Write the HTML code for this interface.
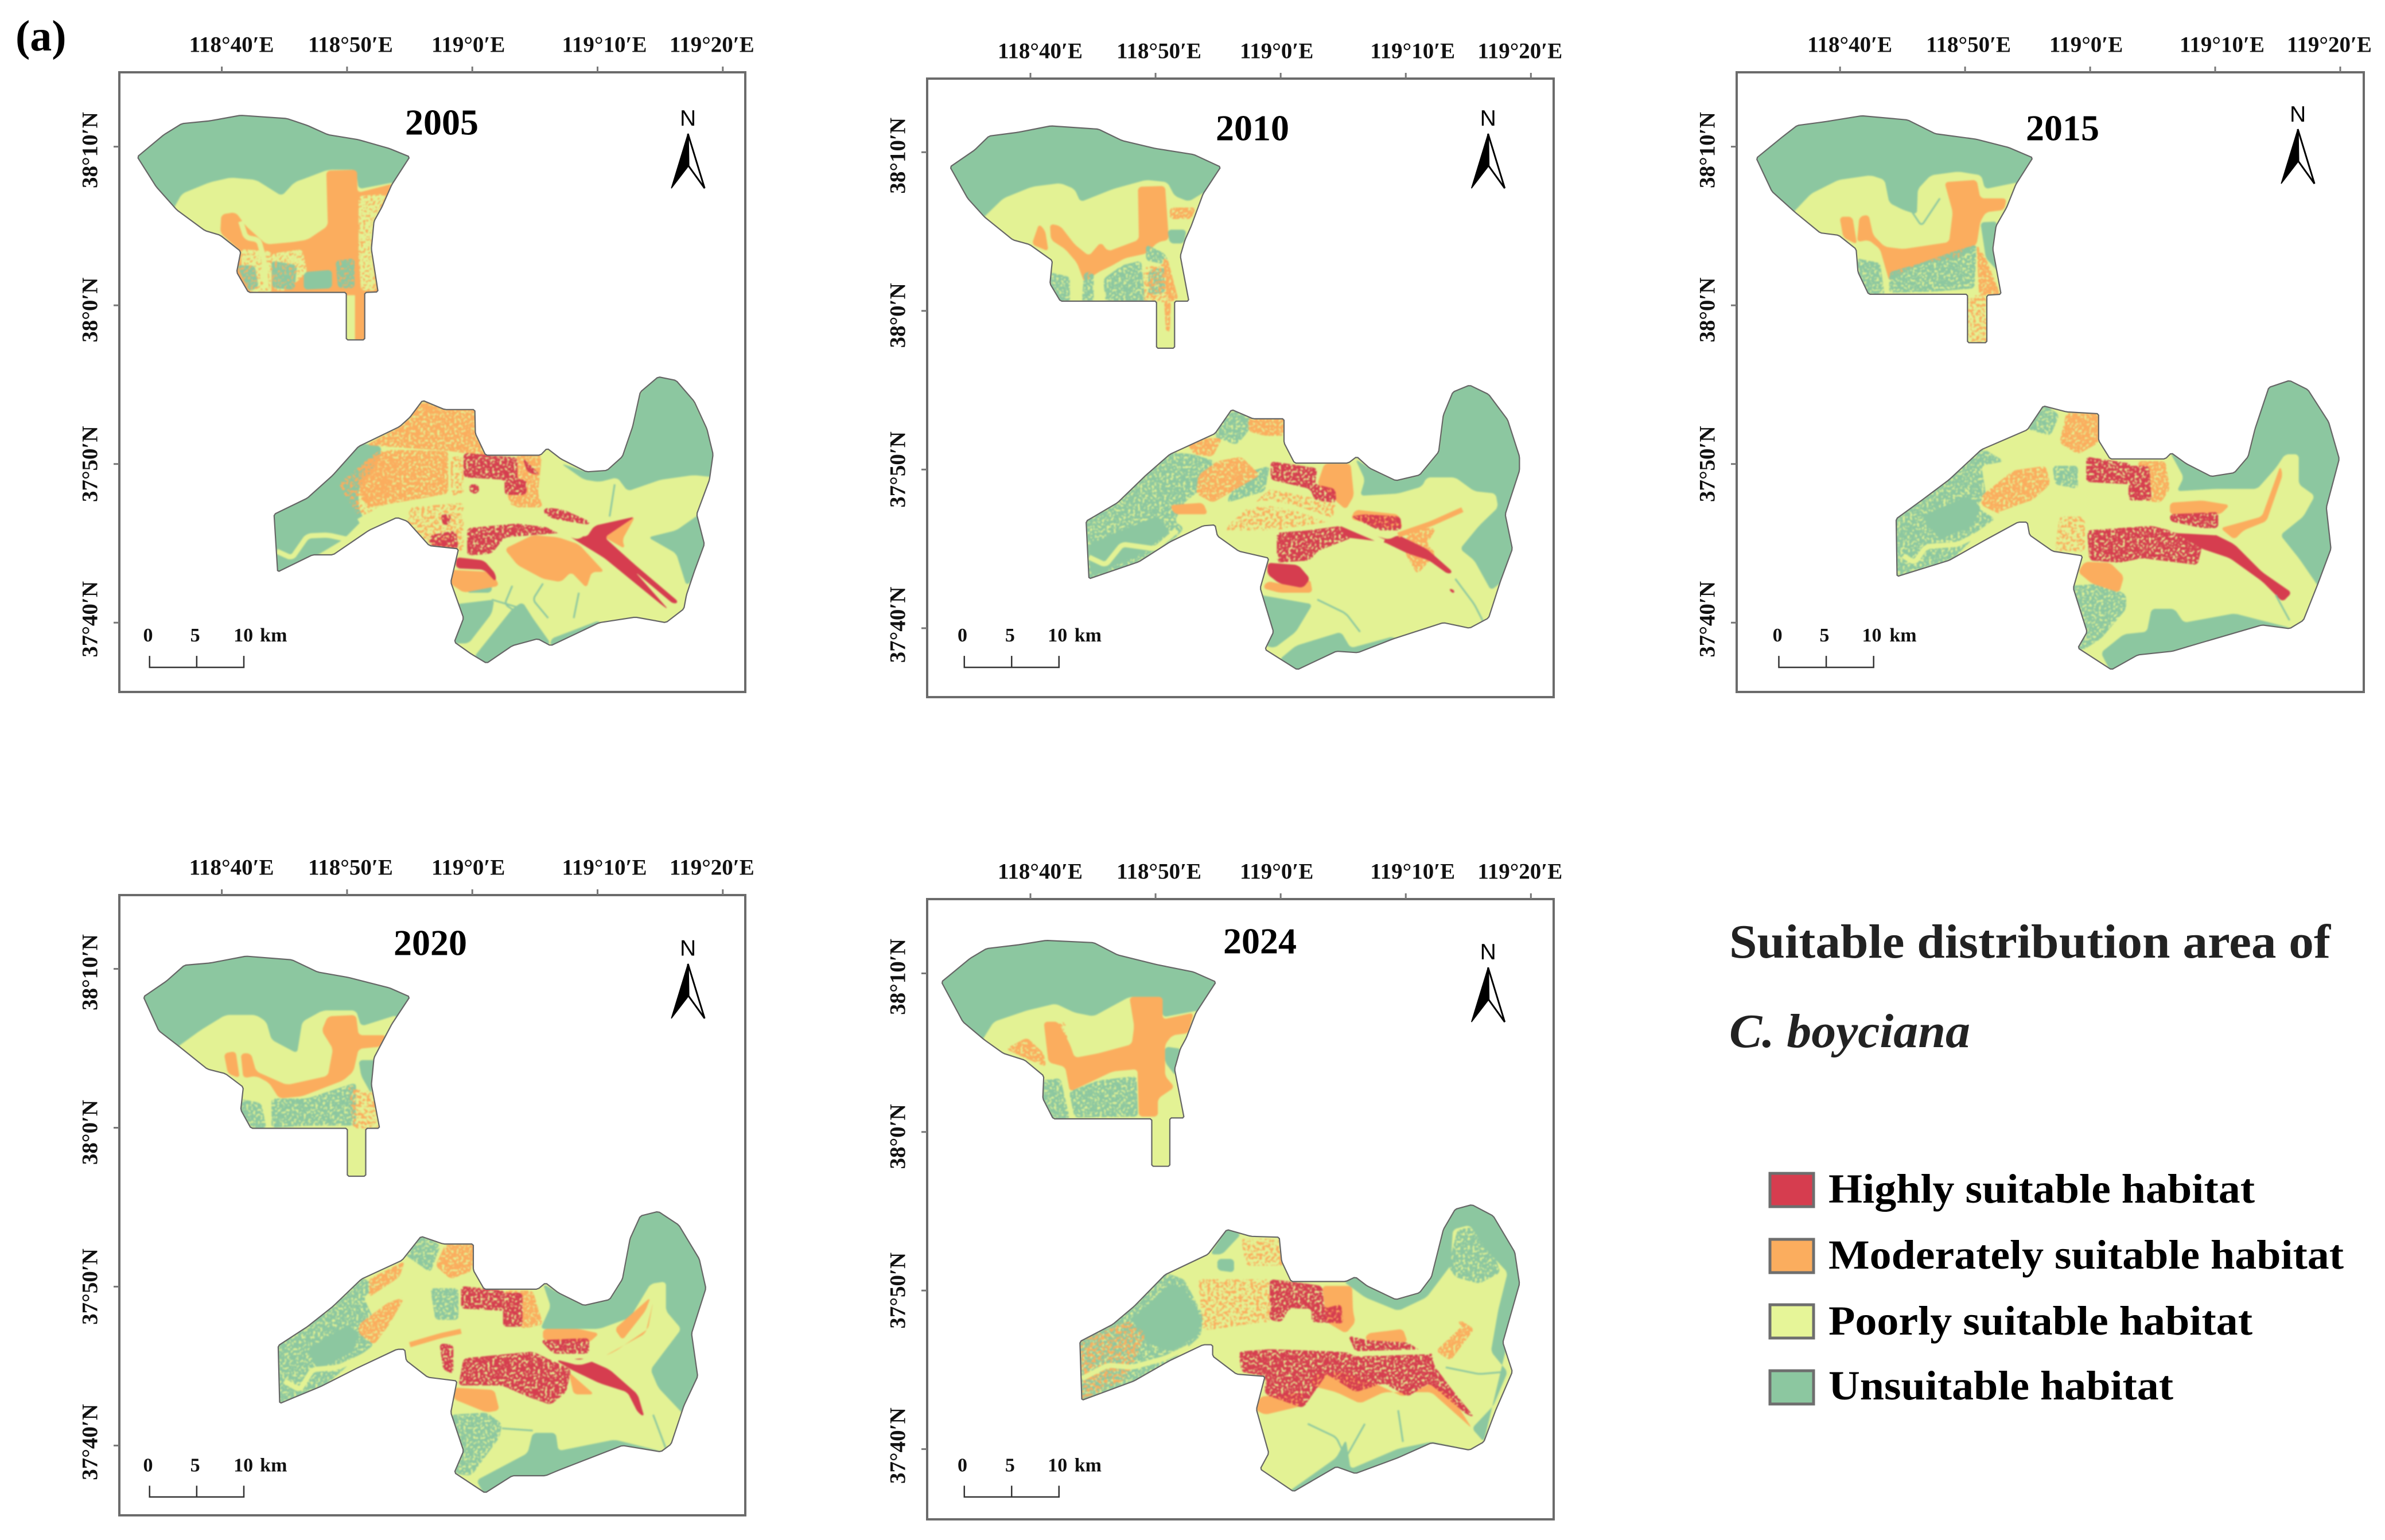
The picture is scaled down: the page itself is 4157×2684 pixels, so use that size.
<!DOCTYPE html>
<html lang="en">
<head>
<meta charset="utf-8">
<title>Suitable distribution area of C. boyciana</title>
<style>
html,body{margin:0;padding:0;background:#fff;width:4157px;height:2684px;overflow:hidden}
svg{display:block}
text{font-family:"Liberation Serif",serif;fill:#111}
.tick-label{font-size:39px;font-weight:bold;text-anchor:middle;dominant-baseline:central}
.year{font-size:64px;font-weight:bold;text-anchor:middle;dominant-baseline:central;fill:#000}
.north{font-family:"Liberation Sans",sans-serif;font-size:39px;text-anchor:middle;dominant-baseline:central;fill:#000}
.scale-text{font-size:34px;font-weight:bold;text-anchor:middle;dominant-baseline:central}
.leg{font-size:72px;font-weight:bold;fill:#000}
.leg-title{font-size:84px;font-weight:bold;fill:#222}
</style>
</head>
<body>
<svg id="figure" xmlns="http://www.w3.org/2000/svg" width="4157" height="2684" viewBox="0 0 4157 2684">
  <defs>
    <filter id="speckle" color-interpolation-filters="sRGB">
      <feTurbulence type="fractalNoise" baseFrequency="0.24" numOctaves="2" seed="4" result="n"/>
      <feColorMatrix in="n" type="matrix" values="0 0 0 0 0  0 0 0 0 0  0 0 0 0 0  12 0 0 0 -4.4" result="mask"/>
      <feComposite in="SourceGraphic" in2="mask" operator="in"/>
    </filter>
    <filter id="sparse" color-interpolation-filters="sRGB">
      <feTurbulence type="fractalNoise" baseFrequency="0.2" numOctaves="2" seed="11" result="n"/>
      <feColorMatrix in="n" type="matrix" values="0 0 0 0 0  0 0 0 0 0  0 0 0 0 0  14 0 0 0 -7.0" result="mask"/>
      <feComposite in="SourceGraphic" in2="mask" operator="in"/>
    </filter>
    <filter id="soft" x="-2%" y="-2%" width="104%" height="104%" color-interpolation-filters="sRGB">
      <feGaussianBlur stdDeviation="1.4"/>
    </filter>
  </defs>
  <rect x="0" y="0" width="4157" height="2684" fill="#fff"/>
  <text x="27" y="88" style="font-size:76px;font-weight:bold;fill:#000">(a)</text>
  <g id="maps"></g>
  <g>
    <text class="leg-title" x="3014" y="1669" textLength="1048" lengthAdjust="spacingAndGlyphs">Suitable distribution area of</text>
    <text class="leg-title" x="3014" y="1825" textLength="420" lengthAdjust="spacingAndGlyphs" style="font-style:italic">C. boyciana</text>
    <rect x="3085" y="2045" width="76" height="58" fill="#d63d4f" stroke="#6e6e6e" stroke-width="5"/>
    <text class="leg" x="3187" y="2096" textLength="743" lengthAdjust="spacingAndGlyphs">Highly suitable habitat</text>
    <rect x="3085" y="2160" width="76" height="58" fill="#fbad5e" stroke="#6e6e6e" stroke-width="5"/>
    <text class="leg" x="3187" y="2211" textLength="898" lengthAdjust="spacingAndGlyphs">Moderately suitable habitat</text>
    <rect x="3085" y="2274" width="76" height="58" fill="#e6f598" stroke="#6e6e6e" stroke-width="5"/>
    <text class="leg" x="3187" y="2326" textLength="739" lengthAdjust="spacingAndGlyphs">Poorly suitable habitat</text>
    <rect x="3085" y="2389" width="76" height="58" fill="#8cc7a0" stroke="#6e6e6e" stroke-width="5"/>
    <text class="leg" x="3187" y="2439" textLength="601" lengthAdjust="spacingAndGlyphs">Unsuitable habitat</text>
  </g>
</svg>
<script>
// Axis values
const lonMinutes = [40, 50, 60, 70, 80];
const lonLabels = ["118°40′E", "118°50′E", "119°0′E", "119°10′E", "119°20′E"];
const latMinutes = [10, 0, -10, -20];
const latLabels = ["38°10′N", "38°0′N", "37°50′N", "37°40′N"];
const years = [2005, 2010, 2015, 2020, 2024];

// Digitised map regions, in scan-grid units.
// u/p/m/h = habitat class; suffix x = speckled, z = sparse speckle; capital = linear feature, suffix t = thin.
const north2005 = "268,340 320,292 355,268 410,262 470,250 560,257 600,272 640,292 700,303 760,322 800,340 765,400 745,450 730,480 725,540 738,633 712,634 712,737 676,737 676,634 485,634 462,590 470,545 430,510 400,500 345,455 305,405";
const south2005 = "535,1115 600,1080 650,1030 700,968 780,925 800,905 825,868 868,888 927,888 928,940 948,987 1055,987 1068,972 1095,995 1145,1023 1185,1020 1215,990 1235,925 1250,850 1285,817 1320,825 1355,870 1380,930 1392,985 1385,1040 1360,1115 1375,1180 1355,1240 1340,1290 1335,1320 1300,1350 1240,1338 1170,1350 1075,1400 1050,1385 1000,1400 950,1438 920,1418 887,1392 905,1340 880,1262 895,1190 838,1183 795,1130 775,1122 720,1150 650,1203 610,1203 542,1240";
const regions2005 = [
 ["p","340,450 355,420 410,395 450,385 500,390 550,425 575,395 600,385 640,368 695,368 700,410 770,395 760,500 760,640 712,640 712,745 670,745 670,640 470,640 440,560 400,500 335,460"],
 ["m","637,370 697,368 698,418 768,398 745,450 730,480 725,540 745,640 475,640 455,590 470,545 430,505 432,465 460,460 480,490 520,530 570,525 600,520 640,490"],
 ["px","700,425 755,420 735,470 725,540 735,630 705,630 700,560"],
 ["px","470,540 530,545 530,636 490,636 472,580"],
 ["px","530,550 590,540 600,590 560,630 535,630"],
 ["m","693,630 716,630 716,745 693,745"],
 ["P","470,480 480,515 505,520 515,560 520,625"],
 ["ux","462,575 497,575 505,622 487,632"],
 ["ux","530,565 580,575 575,628 532,625"],
 ["u","593,590 648,585 648,625 593,628"],
 ["ux","655,565 692,560 692,625 660,625"],
 ["u","530,1110 600,1070 650,1020 700,960 745,968 740,1000 700,1060 700,1100 710,1125 670,1170 610,1210 535,1250"],
 ["mz","660,1050 740,975 780,1000 750,1100 700,1120"],
 ["u","1395,1035 1395,985 1380,930 1355,870 1320,815 1285,810 1250,850 1235,925 1215,990 1185,1020 1145,1023 1095,1005 1140,1040 1170,1045 1205,1035 1225,1065 1290,1040 1355,1030"],
 ["u","1365,1115 1385,1180 1360,1250 1340,1270 1320,1200 1265,1165 1320,1150"],
 ["u","890,1310 965,1300 960,1330 915,1395 880,1395 900,1340"],
 ["u","925,1425 1000,1320 1020,1305 1040,1340 1075,1395 1060,1410 1000,1410 950,1445"],
 ["u","1075,1385 1170,1345 1172,1355 1075,1405"],
 ["u","905,1262 960,1265 960,1285 910,1285"],
 ["P","540,1195 570,1210 600,1162 640,1160 680,1170 710,1140 770,1105"],
 ["mx","795,905 825,862 868,882 935,882 932,940 955,990 880,978 715,965 780,925"],
 ["mx","710,1000 760,975 875,978 875,1070 800,1085 720,1100 700,1070"],
 ["mz","880,990 905,990 905,1075 880,1075"],
 ["m","985,1190 1040,1160 1090,1165 1130,1180 1180,1240 1155,1240 1145,1275 1115,1240 1095,1262 1060,1255 1010,1225"],
 ["mx","1010,985 1058,985 1050,1070 1060,1100 1000,1100 990,1075"],
 ["m","875,1235 960,1240 975,1270 905,1285 875,1262"],
 ["m","1180,1140 1240,1120 1215,1170 1220,1190 1180,1165"],
 ["mz","800,1100 905,1090 905,1195 840,1188 795,1135"],
 ["hx","905,982 1010,992 1010,1040 1028,1040 1028,1073 985,1073 985,1040 905,1035"],
 ["hx","1020,992 1055,1030 1030,1025"],
 ["hx","1065,1100 1100,1105 1150,1130 1150,1138 1080,1125 1060,1112"],
 ["hx","912,1145 1010,1135 1080,1145 1100,1155 985,1165 960,1200 912,1205"],
 ["h","1080,1145 1145,1165 1160,1140 1240,1120 1180,1165 1235,1220 1325,1305 1315,1310 1240,1240 1305,1322 1290,1310 1180,1210 1100,1155"],
 ["h","890,1208 945,1215 968,1245 968,1262 945,1235 890,1232"],
 ["hx","860,1115 880,1115 880,1135 865,1140"],
 ["hx","840,1160 890,1150 895,1190 838,1183"],
 ["hx","915,1050 935,1050 935,1070 918,1070"],
 ["P","700,1130 750,1100 830,1085 900,1078 1000,1100 1090,1150 1130,1165 1145,1145"],
 ["Ut","1060,1265 1040,1300 1070,1340"],
 ["Ut","1130,1285 1120,1340"],
 ["Ut","1000,1270 985,1310 1040,1350"],
 ["Ut","1200,1050 1190,1120"],
 ["Ut","960,1300 1020,1320"]
];

const north2010 = "188,362 240,325 270,295 330,287 400,273 500,280 550,305 620,322 700,335 757,362 720,420 695,490 682,520 672,555 690,653 660,653 660,755 622,755 622,653 420,653 398,615 403,565 355,530 320,520 260,470 225,430";
const south2010 = "474,1130 540,1090 600,1030 650,985 745,940 780,888 825,908 890,908 890,960 912,1004 1025,1004 1043,990 1070,1015 1125,1042 1175,1030 1215,980 1225,900 1245,850 1280,835 1320,855 1360,910 1385,990 1385,1020 1355,1115 1370,1190 1345,1260 1320,1340 1280,1362 1225,1350 1120,1385 1045,1415 1000,1412 918,1452 850,1408 868,1370 840,1275 858,1210 795,1195 750,1162 745,1138 720,1140 650,1175 585,1218 480,1255";
const regions2010 = [
 ["p","255,475 300,430 360,405 420,397 450,410 462,438 530,410 600,390 645,395 660,425 690,437 725,415 760,500 700,660 660,660 660,765 615,765 615,660 415,660 390,600 340,530 310,520"],
 ["m","583,405 640,403 648,520 625,525 600,550 555,560 530,575 500,590 470,612 455,570 430,540 400,520 398,485 420,490 450,530 480,555 505,525 520,545 585,520"],
 ["m","360,530 375,485 388,500 395,545"],
 ["mx","650,450 705,450 695,475 650,475"],
 ["u","645,498 685,498 680,528 650,528"],
 ["ux","395,590 440,600 440,655 415,655 390,615"],
 ["ux","470,590 490,590 490,655 465,655"],
 ["ux","510,605 550,575 590,565 598,655 515,655"],
 ["ux","605,585 640,580 640,635 605,640"],
 ["ux","600,530 640,550 650,575 600,565"],
 ["mx","645,560 668,650 645,655 635,560"],
 ["mz","595,580 650,570 650,655 595,655"],
 ["mx","638,653 652,653 650,720 642,720"],
 ["ux","470,1130 540,1085 600,1025 650,980 700,985 745,1000 740,1040 680,1090 660,1130 680,1145 650,1180 585,1225 475,1260"],
 ["u","480,1180 620,1120 650,1150 600,1195 485,1250"],
 ["P","480,1208 515,1225 550,1180 620,1190 665,1150"],
 ["u","1395,1020 1390,990 1360,910 1320,850 1280,828 1245,845 1225,900 1215,980 1175,1030 1125,1042 1070,1015 1040,995 1060,1040 1050,1075 1130,1070 1180,1055 1190,1035 1250,1035 1290,1065 1335,1070 1340,1100 1300,1140 1260,1190 1290,1215 1325,1280 1350,1260 1380,1190 1360,1115"],
 ["u","840,1290 950,1310 915,1370 870,1405 850,1400 860,1370 835,1275"],
 ["u","915,1400 1010,1370 1030,1405 1120,1380 1130,1390 1045,1420 1000,1418 918,1460 880,1430"],
 ["ux","775,885 825,905 815,935 790,965 740,945"],
 ["ux","790,1030 860,1010 850,1065 770,1090"],
 ["mx","815,905 895,905 890,945 850,945 815,935"],
 ["mx","680,950 760,950 740,990 700,985"],
 ["mx","750,1000 800,990 840,1030 790,1060 740,1090 705,1070 710,1030"],
 ["m","650,1095 720,1090 730,1115 660,1115"],
 ["mz","860,1060 1000,1090 990,1130 870,1150 760,1150"],
 ["m","975,1005 1030,1005 1037,1075 1020,1105 998,1085 960,1050"],
 ["mx","1150,1145 1210,1145 1190,1180 1210,1200 1170,1245 1145,1200"],
 ["m","1040,1105 1130,1115 1140,1145 1100,1145 1030,1125"],
 ["m","855,1260 930,1275 945,1255 950,1285 880,1285 845,1275"],
 ["hx","862,1000 960,1015 955,1050 998,1060 1000,1090 955,1085 945,1060 862,1040"],
 ["hx","1030,1120 1060,1115 1135,1120 1137,1150 1090,1150"],
 ["hx","875,1155 940,1150 1010,1140 1060,1155 960,1195 945,1215 875,1220"],
 ["h","1010,1140 1060,1155 1110,1170 1130,1160 1190,1190 1245,1240 1235,1245 1195,1215 1150,1200 1100,1175 1020,1165"],
 ["h","855,1220 920,1225 945,1255 930,1275 880,1265 855,1245"],
 ["h","1235,1275 1250,1280 1245,1288"],
 ["P","740,1110 850,1090 910,1100 1010,1135 1100,1175"],
 ["M","1130,1160 1200,1135 1265,1105"],
 ["Ut","960,1300 1020,1330 1050,1370"],
 ["Ut","1250,1255 1290,1310 1310,1350"]
];

const north2015 = "201,343 260,295 290,272 350,264 430,251 530,260 590,290 680,302 750,320 802,342 765,400 745,450 722,490 715,540 733,638 702,640 702,743 660,743 660,638 445,638 422,590 418,540 380,510 340,505 285,460 235,415";
const south2015 = "505,1125 560,1085 620,1040 690,975 790,932 825,880 875,893 945,897 945,955 970,995 1090,995 1103,982 1135,1005 1190,1033 1240,1025 1270,990 1285,930 1315,840 1360,825 1400,845 1445,915 1468,995 1440,1100 1450,1190 1420,1270 1390,1345 1360,1363 1300,1355 1180,1390 1105,1412 1030,1420 973,1452 900,1405 920,1370 890,1275 910,1205 845,1195 795,1160 790,1132 770,1132 700,1170 620,1215 507,1250";
const regions2015 = [
 ["p","280,462 320,420 380,390 450,380 480,390 490,440 520,455 550,465 552,410 580,380 640,372 690,380 698,410 770,395 770,500 745,645 702,645 702,750 655,750 655,645 440,645 410,550 370,510 330,505"],
 ["m","610,395 680,390 688,430 745,430 740,455 700,460 688,480 680,530 640,560 560,570 490,610 470,540 445,520 420,525 425,470 445,465 455,510 480,535 520,540 620,525 628,460"],
 ["m","382,470 410,470 420,530 390,515"],
 ["ux","418,560 470,570 480,640 440,640 418,590"],
 ["ux","490,590 560,570 630,545 680,530 675,625 590,632 490,635"],
 ["u","688,482 725,480 715,540 728,590 700,560"],
 ["mx","680,530 700,560 732,640 685,640"],
 ["mz","655,640 705,640 705,745 655,745"],
 ["ux","500,1125 560,1080 620,1035 690,970 740,1000 690,1010 700,1070 680,1100 720,1125 670,1170 620,1220 502,1255"],
 ["u","560,1120 660,1075 690,1100 670,1140 600,1170"],
 ["P","520,1205 545,1220 570,1185 640,1180 680,1160 730,1125"],
 ["u","1478,995 1450,915 1400,838 1360,818 1310,838 1285,930 1270,990 1240,1025 1190,1033 1135,1005 1100,980 1130,1035 1115,1065 1200,1060 1290,1060 1330,1015 1350,985 1380,985 1380,1050 1415,1075 1390,1120 1340,1160 1380,1210 1425,1275 1455,1190 1445,1100"],
 ["ux","885,1270 960,1265 1005,1290 1005,1320 950,1385 910,1410 895,1405 915,1370"],
 ["u","950,1415 1000,1375 1050,1370 1060,1320 1110,1320 1130,1350 1240,1330 1365,1362 1300,1362 1180,1395 1105,1418 1030,1425 973,1460"],
 ["ux","790,930 825,875 860,900 840,945"],
 ["ux","845,1010 900,1010 900,1060 850,1050"],
 ["m","1100,1090 1170,1085 1230,1095 1210,1115 1100,1115"],
 ["m","1210,1145 1300,1120 1340,1010 1345,1030 1310,1130 1260,1150 1240,1170"],
 ["mx","690,1075 760,1020 830,1010 840,1050 800,1085 730,1115 690,1095"],
 ["m","900,1240 915,1218 970,1220 1000,1250 990,1285 930,1265"],
 ["mx","875,895 950,895 945,960 900,985 860,960"],
 ["mx","1030,1000 1090,1000 1100,1060 1080,1090 1040,1085"],
 ["mz","860,1120 915,1120 915,1195 850,1195"],
 ["hx","918,990 1015,1005 1015,1050 918,1045"],
 ["hx","1010,1010 1055,1010 1060,1085 1010,1085"],
 ["hx","920,1150 1060,1140 1100,1150 1170,1185 1160,1225 1040,1210 990,1220 925,1215"],
 ["h","1100,1150 1190,1155 1240,1180 1300,1240 1365,1285 1345,1305 1300,1260 1230,1210 1170,1190"],
 ["hx","1100,1115 1205,1110 1205,1145 1170,1145 1100,1130"],
 ["P","1015,1100 1110,1150 1200,1155"],
 ["P","730,1115 800,1090 920,1085 1015,1100"],
 ["Ut","1330,1290 1360,1345"],
 ["Ut","540,460 560,490 600,430"]
];

const north2020 = "280,365 325,330 360,295 410,290 480,275 570,283 620,310 680,322 760,345 800,365 765,425 730,500 725,560 741,656 714,656 714,762 678,762 678,656 490,656 470,615 475,565 440,535 405,525 350,475 310,440";
const south2020 = "543,1137 600,1095 650,1050 705,990 785,948 822,895 865,912 924,912 924,970 945,1012 1050,1012 1065,998 1090,1020 1140,1048 1190,1035 1215,990 1230,900 1250,850 1285,840 1325,870 1365,945 1378,1010 1350,1110 1362,1205 1335,1270 1310,1355 1290,1372 1215,1358 1090,1413 1065,1425 1000,1425 947,1463 887,1418 905,1370 880,1285 892,1215 835,1207 793,1170 790,1145 775,1145 700,1185 625,1228 546,1265";
const regions2020 = [
 ["p","345,477 390,440 440,405 500,405 520,420 530,460 580,490 590,420 630,395 695,395 705,430 775,405 770,520 745,660 714,660 714,770 672,770 672,660 485,660 460,570 400,525"],
 ["m","640,408 695,405 700,450 755,450 745,475 700,480 690,530 670,550 590,585 545,590 525,555 500,540 475,545 470,490 490,490 500,530 560,560 640,540 650,480 628,440"],
 ["m","437,490 460,485 468,545 445,535"],
 ["ux","465,590 510,600 520,655 490,660 465,615"],
 ["ux","530,590 600,590 680,560 695,555 695,650 600,650 530,655"],
 ["u","700,505 735,505 725,580 705,540"],
 ["mz","680,560 735,580 741,656 690,656"],
 ["ux","540,1135 600,1090 650,1045 705,985 735,1005 710,1030 730,1080 700,1100 730,1135 690,1170 625,1235 543,1270"],
 ["u","600,1145 680,1090 700,1110 690,1150 620,1190"],
 ["P","555,1215 585,1235 610,1190 660,1185 700,1165 740,1140"],
 ["ux","840,1010 895,1010 895,1080 850,1080"],
 ["ux","790,935 822,890 860,915 840,975"],
 ["u","1390,1010 1370,945 1330,870 1285,833 1250,845 1230,900 1215,990 1190,1035 1140,1048 1090,1020 1060,1000 1075,1050 1055,1100 1170,1100 1230,1075 1270,1000 1300,995 1300,1060 1330,1100 1310,1130 1270,1190 1285,1230 1335,1290 1370,1205 1358,1110"],
 ["ux","880,1290 950,1285 980,1310 975,1340 920,1425 885,1420 900,1370"],
 ["u","930,1435 1030,1375 1040,1330 1085,1330 1090,1370 1200,1345 1295,1372 1215,1365 1090,1420 1065,1432 1000,1432 947,1470"],
 ["m","1060,1100 1130,1100 1170,1110 1150,1130 1060,1125"],
 ["m","1180,1160 1260,1110 1275,1040 1265,1100 1200,1150"],
 ["m","1200,1100 1270,1030 1260,1060 1215,1125"],
 ["mx","700,1090 760,1040 790,1030 760,1090 730,1135 700,1110"],
 ["mx","720,990 790,950 780,985 720,1030"],
 ["m","885,1230 965,1235 975,1280 950,1285 885,1255"],
 ["mx","985,1015 1040,1015 1060,1090 1020,1100 985,1050"],
 ["mx","870,912 930,912 924,970 880,990 850,960"],
 ["m","1110,1195 1160,1245 1120,1245"],
 ["hx","900,1005 985,1015 985,1060 900,1055"],
 ["hx","982,1020 1020,1020 1020,1095 982,1095"],
 ["hx","1055,1125 1150,1120 1150,1155 1080,1155"],
 ["hx","905,1165 1040,1150 1115,1190 1105,1240 1075,1268 1030,1250 980,1225 895,1225"],
 ["h","1085,1170 1140,1165 1190,1190 1245,1245 1258,1295 1245,1285 1225,1240 1170,1220 1115,1190"],
 ["hx","858,1132 885,1135 885,1200 865,1190"],
 ["P","985,1115 1080,1160 1130,1175 1160,1165"],
 ["M","800,1135 860,1115 900,1105"],
 ["Ut","980,1320 1040,1325"],
 ["Ut","1275,1290 1300,1365"]
];

const north2024 = "170,332 230,280 265,258 330,250 390,240 490,245 540,272 620,293 700,310 747,332 705,400 685,455 672,480 660,525 680,633 650,633 650,740 612,740 612,635 405,635 383,590 385,540 345,505 300,490 260,460 215,420";
const south2024 = "461,1128 530,1090 575,1050 640,980 730,935 770,880 820,895 880,897 885,950 905,995 1020,995 1040,985 1065,1005 1125,1035 1175,1020 1200,985 1225,880 1250,835 1285,825 1330,850 1375,930 1385,1000 1350,1130 1370,1195 1335,1280 1310,1350 1280,1368 1200,1352 1130,1385 1040,1420 1000,1405 910,1460 840,1410 858,1375 832,1278 850,1205 790,1200 740,1160 740,1135 720,1135 650,1170 575,1215 465,1258";
const regions2024 = [
 ["p","255,462 280,420 350,395 410,380 450,400 490,408 530,385 565,365 635,365 635,410 710,395 720,500 690,640 650,640 650,750 605,750 605,640 400,640 375,540 300,495"],
 ["m","565,365 635,365 635,415 700,400 690,445 655,450 640,470 640,540 660,565 625,590 625,630 585,630 582,525 530,530 440,575 430,520 395,510 385,420 415,420 440,470 450,500 500,490 570,470 575,430"],
 ["mx","305,480 350,455 385,490 390,520 345,500"],
 ["mz","385,420 430,420 440,500 395,510"],
 ["ux","438,575 500,550 580,540 583,630 450,632"],
 ["ux","380,550 420,545 440,635 405,637 380,590"],
 ["u","640,475 675,480 662,540 640,510"],
 ["ux","458,1125 530,1085 575,1045 640,975 680,990 720,1070 715,1115 650,1175 575,1220 462,1262"],
 ["u","570,1080 650,1000 680,1010 715,1075 710,1115 650,1150 600,1130"],
 ["mz","458,1130 560,1080 600,1110 560,1210 460,1260"],
 ["P","465,1210 520,1180 570,1185 640,1165 690,1140"],
 ["u","735,935 770,875 800,890 760,935"],
 ["u","750,945 785,945 785,975 750,970"],
 ["u","1395,1000 1380,930 1335,850 1285,818 1250,830 1225,880 1200,985 1175,1020 1125,1035 1065,1005 1040,980 1015,995 1060,1030 1130,1060 1190,1030 1240,960 1245,880 1280,870 1320,930 1360,975 1340,1060 1325,1150 1360,1195 1330,1270 1285,1320 1310,1350 1360,1130"],
 ["ux","1235,960 1255,880 1285,875 1330,930 1345,975 1300,1000 1250,985"],
 ["u","900,1460 1000,1385 1020,1345 1030,1410 1130,1365 1200,1350 1285,1370 1200,1360 1130,1392 1040,1428 1000,1412 910,1468"],
 ["m","1065,1110 1140,1100 1150,1130 1060,1125"],
 ["m","970,1005 1033,1005 1035,1060 1040,1085 1020,1110 980,1085"],
 ["m","840,1250 930,1240 930,1270 850,1290 828,1278"],
 ["m","950,1200 1010,1195 1080,1220 1140,1250 1200,1220 1240,1245 1285,1320 1200,1240 1100,1240 1050,1265 1000,1240 945,1225"],
 ["mx","1210,1150 1260,1080 1290,1100 1240,1170"],
 ["mz","710,990 860,990 860,1090 720,1110"],
 ["mz","800,900 885,900 890,960 810,960"],
 ["hx","860,990 905,995 970,1005 975,1055 1010,1045 1015,1088 948,1085 948,1055 900,1055 885,1085 860,1080"],
 ["hx","795,1150 860,1145 1000,1150 1100,1160 1200,1150 1205,1180 1240,1230 1290,1295 1275,1290 1195,1220 1150,1250 1100,1220 1040,1240 980,1200 930,1275 850,1245 850,1205 800,1195"],
 ["hx","1025,1115 1065,1125 1150,1130 1180,1150 1040,1150"],
 ["P","720,1110 850,1090 960,1110 1040,1155 1200,1150 1260,1090"],
 ["Ut","940,1310 1000,1340 1020,1385 1060,1310"],
 ["Ut","1130,1280 1140,1350"],
 ["Ut","1230,1185 1300,1200 1355,1195"]
];

const northOutlines = [north2005, north2010, north2015, north2020, north2024];
const southOutlines = [south2005, south2010, south2015, south2020, south2024];
const panelRegions = [regions2005, regions2010, regions2015, regions2020, regions2024];

// Panel layout (scan-grid to page transform and furniture placement)
const layout = [
 {ox:0,oy:0,sx:1.12,sy:1.244,frame:[208,126,1299,1206],lon0:433,lonStep:24.45,lat0:318,latStep:34.4,title:[770,213],arrow:[1343,290],nLabel:[1343,257],bar:[292,476,1422,1447],barText:[289,381,475,534,1378]},
 {ox:1500,oy:0,sx:1.206,sy:1.244,frame:[1616,137,2708,1215],lon0:357,lonStep:26.3,lat0:330,latStep:34.4,title:[2183,223],arrow:[1319,290],nLabel:[1319,257],bar:[218,417,1422,1447],barText:[214,314,414,478,1378]},
 {ox:2900,oy:0,sx:1.247,sy:1.244,frame:[3027,126,4120,1206],lon0:383,lonStep:27.18,lat0:318,latStep:34.4,title:[3595,223],arrow:[1378,280],nLabel:[1378,248],bar:[250,456,1422,1447],barText:[247,349,452,520,1378]},
 {ox:0,oy:1450,sx:1.12,sy:1.27,frame:[208,1560,1299,2641],lon0:433,lonStep:24.45,lat0:303,latStep:35.17,title:[750,1643],arrow:[1343,292],nLabel:[1343,258],bar:[292,476,1447,1472],barText:[289,381,475,534,1402]},
 {ox:1500,oy:1450,sx:1.206,sy:1.27,frame:[1616,1567,2708,2648],lon0:357,lonStep:26.3,lat0:313,latStep:35.1,title:[2196,1640],arrow:[1319,300],nLabel:[1319,266],bar:[218,417,1447,1472],barText:[214,314,414,478,1402]}
];
const lonNudge = [17, 6, -7, 12, -19];
const latNudge = [6, 8, 0, -6];
const classFill = {u:"#8cc7a0", p:"#e3f294", m:"#fbad5e", h:"#d63d4f"};
const SVGNS = "http://www.w3.org/2000/svg";

function make(tag, attrs, parent, txt) {
  const el = document.createElementNS(SVGNS, tag);
  for (const k in attrs) el.setAttribute(k, attrs[k]);
  if (txt !== undefined) el.textContent = txt;
  parent.appendChild(el);
  return el;
}

function parsePts(s) {
  return s.trim().split(/\s+/).map(p => p.split(",").map(Number));
}

// Corner rounding: replaces each vertex by two points at most d along its edges
function roundCorners(pts, d, closed) {
  const out = [];
  const n = pts.length;
  for (let i = 0; i < n; i++) {
    if (!closed && (i === 0 || i === n - 1)) { out.push(pts[i]); continue; }
    const a = pts[(i - 1 + n) % n], b = pts[i], c = pts[(i + 1) % n];
    const la = Math.hypot(a[0]-b[0], a[1]-b[1]) || 1, lc = Math.hypot(c[0]-b[0], c[1]-b[1]) || 1;
    const da = Math.min(d, la * 0.3), dc = Math.min(d, lc * 0.3);
    out.push([b[0] + (a[0]-b[0]) * da / la, b[1] + (a[1]-b[1]) * da / la]);
    out.push([b[0] + (c[0]-b[0]) * dc / lc, b[1] + (c[1]-b[1]) * dc / lc]);
  }
  return out;
}

function drawPanel(i) {
  const L = layout[i];
  const xPx = u => L.ox + u / L.sx;
  const yPx = v => L.oy + v / L.sy;
  const lonX = m => xPx(L.lon0 + (m - 40) * L.lonStep);
  const latY = m => yPx(L.lat0 + (10 - m) * L.latStep);
  const fmt = pts => pts.map(a => xPx(a[0]).toFixed(1) + "," + yPx(a[1]).toFixed(1)).join(" ");
  const outlinePts = s => fmt(roundCorners(parsePts(s), 3, true));
  const regionPts = (s, closed) => fmt(roundCorners(roundCorners(parsePts(s), 5, closed), 2, closed));

  const g = make("g", {}, document.getElementById("maps"));
  
  

  const f = L.frame;
  const frame = make("rect", {x:f[0], y:f[1], width:f[2]-f[0], height:f[3]-f[1], fill:"#fff", stroke:"#6b6b6b", "stroke-width":4}, g);
  
  

  lonMinutes.forEach((m, k) => {
    const tick = make("line", {x1:lonX(m), x2:lonX(m), y1:f[1]-10, y2:f[1], stroke:"#777", "stroke-width":3}, g);
    
    
    const t = make("text", {class:"tick-label", x:lonX(m)+lonNudge[k], y:f[1]-48}, g, lonLabels[k]);
    
    
  });
  latMinutes.forEach((m, k) => {
    const tick = make("line", {x1:f[0]-10, x2:f[0], y1:latY(m), y2:latY(m), stroke:"#777", "stroke-width":3}, g);
    
    
    const cx = f[0]-51, cy = latY(m)+latNudge[k];
    const t = make("text", {class:"tick-label", x:cx, y:cy, transform:"rotate(-90 "+cx+" "+cy+")"}, g, latLabels[k]);
    
    
  });

  const clip = make("clipPath", {id:"clip-" + years[i]}, g);
  make("polygon", {points:outlinePts(northOutlines[i])}, clip);
  make("polygon", {points:outlinePts(southOutlines[i])}, clip);

  const clipped = make("g", {"clip-path":"url(#clip-" + years[i] + ")"}, g);
  
  
  const soft = make("g", {filter:"url(#soft)"}, clipped);
  
  

  const northBase = make("polygon", {points:outlinePts(northOutlines[i]), fill:classFill.u, stroke:classFill.u, "stroke-width":6}, soft);
  
  
  const southBase = make("polygon", {points:outlinePts(southOutlines[i]), fill:classFill.p, stroke:classFill.p, "stroke-width":6}, soft);
  
  

  panelRegions[i].forEach(r => {
    const first = r[0][0];
    const mod = r[0][1];
    const lower = first.toLowerCase();
    const attrs = {};
    let el;
    if (first === lower) {
      attrs.points = regionPts(r[1], true);
      attrs.fill = classFill[lower];
      if (mod === "x") attrs.filter = "url(#speckle)";
      if (mod === "z") attrs.filter = "url(#sparse)";
      el = make("polygon", attrs, soft);
    } else {
      attrs.points = regionPts(r[1], false);
      attrs.fill = "none";
      attrs.stroke = classFill[lower];
      attrs["stroke-width"] = mod === "t" ? 3 : 9;
      attrs["stroke-linejoin"] = "round";
      el = make("polyline", attrs, soft);
    }
    
    
  });

  [northOutlines[i], southOutlines[i]].forEach(s => {
    const o = make("polygon", {points:outlinePts(s), fill:"none", stroke:"#666", "stroke-width":2.2}, g);
    
    
  });

  const yr = make("text", {class:"year", x:L.title[0], y:L.title[1]}, g, String(years[i]));
  
  

  const nt = make("text", {class:"north", x:xPx(L.nLabel[0]), y:yPx(L.nLabel[1])}, g, "N");
  
  
  const ax = xPx(L.arrow[0]), ay = yPx(L.arrow[1]);
  const al = make("polygon", {points:[ax,ay, ax-29,ay+95, ax+1,ay+56].join(" "), fill:"#000", stroke:"#000", "stroke-width":1.5}, g);
  
  
  const ar = make("polygon", {points:[ax,ay, ax+29,ay+95, ax+1,ay+56].join(" "), fill:"#fff", stroke:"#000", "stroke-width":3}, g);
  
  

  const b = L.bar, mid = (b[0]+b[1])/2;
  const d = ["M",xPx(b[0]),yPx(b[2]),"V",yPx(b[3]),"H",xPx(b[1]),"V",yPx(b[2]),"M",xPx(mid),yPx(b[3]),"V",yPx(b[2])].join(" ");
  const bar = make("path", {d:d, fill:"none", stroke:"#333", "stroke-width":2.5}, g);
  
  
  ["0","5","10","km"].forEach((s, k) => {
    const t = make("text", {class:"scale-text", x:xPx(L.barText[k]), y:yPx(L.barText[4])}, g, s);
    
    
  });
}

years.forEach((y, i) => drawPanel(i));
</script>
</body>
</html>
